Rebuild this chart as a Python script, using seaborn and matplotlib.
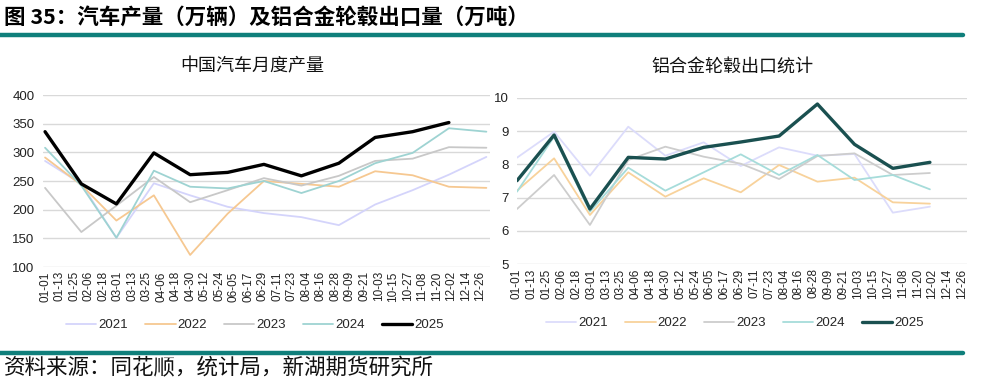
import matplotlib
matplotlib.use("Agg")
import matplotlib.pyplot as plt
import seaborn as sns
import pandas as pd

# ---- data ----
years = ["2021", "2022", "2023", "2024", "2025"]
# x positions: day of (leap) year for month-end observations
pos13 = [0, 30, 59, 90, 120, 151, 181, 212, 243, 273, 304, 334, 365]
pos12 = pos13[:12]

car_2021 = [285, 245, 151, 246, 225, 205, 194, 187, 173, 209, 234, 261, 292]
car_2022 = [291, 243, 181, 225, 121, 193, 250, 245, 240, 267, 260, 240, 238]
car_2023 = [238, 161, 207, 257, 213, 234, 255, 242, 259, 285, 289, 309, 308]
car_2024 = [308, 242, 151, 268, 240, 237, 250, 229, 250, 281, 299, 342, 336]
car_2025 = [336, 245, 210, 299, 261, 265, 279, 259, 281, 326, 336, 352]

whl_2021 = [8.20, 8.98, 7.66, 9.13, 8.26, 8.66, 7.95, 8.51, 8.26, 8.31, 6.55, 6.73]
whl_2022 = [7.21, 8.18, 6.48, 7.76, 7.03, 7.58, 7.16, 7.98, 7.48, 7.60, 6.86, 6.82]
whl_2023 = [6.66, 7.68, 6.18, 8.13, 8.53, 8.23, 8.02, 7.56, 8.25, 8.33, 7.68, 7.74]
whl_2024 = [7.18, 8.83, 6.58, 7.90, 7.21, 7.76, 8.30, 7.68, 8.28, 7.53, 7.68, 7.25]
whl_2025 = [7.51, 8.88, 6.66, 8.21, 8.16, 8.51, 8.67, 8.85, 9.81, 8.60, 7.88, 8.06]

tick_pos = list(range(0, 361, 12))
tick_labels = ["01-01", "01-13", "01-25", "02-06", "02-18", "03-01", "03-13", "03-25",
               "04-06", "04-18", "04-30", "05-12", "05-24", "06-05", "06-17", "06-29",
               "07-11", "07-23", "08-04", "08-16", "08-28", "09-09", "09-21", "10-03",
               "10-15", "10-27", "11-08", "11-20", "12-02", "12-14", "12-26"]

title = "图 35：汽车产量（万辆）及铝合金轮毂出口量（万吨）"
sub_left = "中国汽车月度产量"
sub_right = "铝合金轮毂出口统计"
source = "资料来源：同花顺，统计局，新湖期货研究所"

# ---- style ----
sns.set_theme(style="white")
plt.rcParams["font.family"] = ["Liberation Sans", "Noto Sans CJK SC", "DejaVu Sans"]
cjk = ["Noto Sans CJK SC", "DejaVu Sans"]

colors_left = ["#d4d4fb", "#f6c891", "#c8c8c8", "#9ed3d2", "#000000"]
colors_right = ["#dcdcfb", "#f8d29b", "#cdcdcd", "#a6dcda", "#1a5050"]
widths = [1.3, 1.3, 1.3, 1.3, 2.4]

fig = plt.figure(figsize=(9.84, 3.89), dpi=100)
axL = fig.add_axes([43/984, 1-267/389, (490-43)/984, (267-95)/389])
axR = fig.add_axes([517/984, 1-264.3/389, (967-517)/984, (264.3-97.7)/389])

car = [car_2021, car_2022, car_2023, car_2024, car_2025]
whl = [whl_2021, whl_2022, whl_2023, whl_2024, whl_2025]

for i, y in enumerate(years):
    vals = car[i]
    df = pd.DataFrame({"x": pos13[:len(vals)], "v": vals})
    sns.lineplot(data=df, x="x", y="v", ax=axL, color=colors_left[i],
                 linewidth=widths[i], label=y, zorder=3 + i)
    vals = whl[i]
    df = pd.DataFrame({"x": pos12[:len(vals)], "v": vals})
    sns.lineplot(data=df, x="x", y="v", ax=axR, color=colors_right[i],
                 linewidth=widths[i], label=y, zorder=3 + i)

def style(ax, ylim, yticks, xlim):
    ax.set_xlim(*xlim)
    ax.set_ylim(*ylim)
    ax.set_yticks(yticks)
    ax.set_xticks(tick_pos)
    ax.set_xticklabels(tick_labels, rotation=90, fontsize=8.5, color="#222222")
    ax.tick_params(axis="y", labelsize=9.5, colors="#222222", length=0, pad=6)
    ax.tick_params(axis="x", length=0, pad=3)
    ax.set_xlabel("")
    ax.set_ylabel("")
    for s in ax.spines.values():
        s.set_visible(False)
    ax.grid(axis="y", color="#d9d9d9", linewidth=1.0)
    ax.grid(axis="x", visible=False)
    ax.set_axisbelow(True)

style(axL, (100, 400), list(range(100, 401, 50)), (-1.7, 368))
style(axR, (5, 10), list(range(5, 11)), (0, 364))

legL = axL.legend(loc="center", bbox_to_anchor=(255/984, 1-325/389),
                  bbox_transform=fig.transFigure, ncol=5, frameon=False,
                  fontsize=9.5, handlelength=2.3, handletextpad=0.15, columnspacing=1.3)
legR = axR.legend(loc="center", bbox_to_anchor=(735/984, 1-323/389),
                  bbox_transform=fig.transFigure, ncol=5, frameon=False,
                  fontsize=9.5, handlelength=2.3, handletextpad=0.15, columnspacing=1.3)

fig.text(252/984, 1-66/389, sub_left, ha="center", va="center", fontsize=13,
         family=cjk, color="#111111")
fig.text(732/984, 1-67/389, sub_right, ha="center", va="center", fontsize=13,
         family=cjk, color="#111111")
fig.text(4/984, 1-17/389, title, ha="left", va="center", fontsize=15.5,
         fontweight="bold", family=cjk, color="#000000")
fig.text(4/984, 1-368/389, source, ha="left", va="center", fontsize=15.5,
         family=cjk, color="#111111")

teal = "#0f7f7b"
fig.add_artist(plt.Line2D([0, 963/984], [1-35/389, 1-35/389], color=teal,
                          linewidth=3.2, transform=fig.transFigure))
fig.add_artist(plt.Line2D([0, 963/984], [1-353/389, 1-353/389], color=teal,
                          linewidth=3.2, transform=fig.transFigure))

fig.savefig("out.png", dpi=100)
